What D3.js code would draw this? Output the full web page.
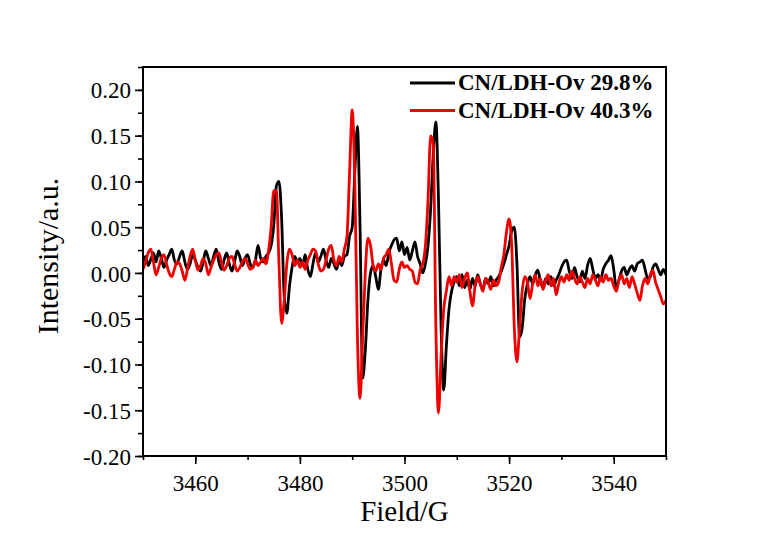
<!DOCTYPE html>
<html>
<head>
<meta charset="utf-8">
<script src="https://cdn.jsdelivr.net/npm/d3@7"></script>
<style>
  body { margin: 0; background: #fff; }
  text { font-family: "Liberation Serif", "Times New Roman", serif; }
</style>
</head>
<body>
<div id="chart"></div>
<script>

//////////////////////////////////////////////////////////////////////////////
// Data (read off the picture, sampled every 0.5 G from 3450 to 3550)

var seriesNames = ["CN/LDH-Ov 29.8%", "CN/LDH-Ov 40.3%"];
var seriesColors = ["#000000", "#ee0000"];

var xTicks = [3460, 3480, 3500, 3520, 3540];
var yTicks = [-0.20, -0.15, -0.10, -0.05, 0.00, 0.05, 0.10, 0.15, 0.20];

var fieldStart = 3450, fieldStep = 0.5;

var ov298 = [
    0.012, 0.018, 0.008, 0.015, 0.022, 0.012, 0.024, 0.016, 0.006, 0.014, 0.020, 0.026, 0.014, 0.010, 0.018, 0.024, 0.012, 0.004, 0.010, 0.020,
    0.014, 0.006, 0.002, 0.012, 0.024, 0.016, 0.008, 0.018, 0.026, 0.012, 0.004, 0.014, 0.022, 0.010, 0.002, 0.012, 0.024, 0.018, 0.008, 0.016,
    0.020, 0.010, 0.006, 0.014, 0.030, 0.016, 0.012, 0.018, 0.022, 0.030, 0.052, 0.095, 0.100, 0.060, -0.025, -0.044, -0.015, 0.006, 0.018, 0.012,
    0.016, 0.008, 0.020, 0.004, -0.004, 0.010, 0.022, 0.012, 0.018, 0.026, 0.014, 0.006, 0.016, 0.010, 0.004, 0.014, 0.008, 0.018, 0.020, 0.040,
    0.050, 0.110, 0.160, 0.050, -0.115, -0.085, -0.030, 0.000, 0.008, -0.004, -0.018, 0.004, 0.014, 0.008, 0.022, 0.030, 0.036, 0.038, 0.024, 0.034,
    0.020, 0.028, 0.014, 0.024, 0.034, 0.018, 0.010, 0.000, 0.010, 0.030, 0.070, 0.130, 0.165, 0.080, -0.060, -0.128, -0.080, -0.040, -0.020, -0.010,
    -0.004, -0.014, -0.002, -0.016, -0.008, -0.018, -0.006, -0.014, -0.002, -0.012, -0.018, -0.006, -0.012, -0.004, -0.014, -0.008, -0.004, 0.002, 0.010, 0.020,
    0.030, 0.046, 0.050, 0.010, -0.070, -0.060, -0.028, -0.012, -0.004, -0.012, -0.002, 0.003, -0.010, -0.016, -0.006, -0.012, -0.004, -0.014, -0.008, -0.002,
    0.006, 0.012, 0.014, 0.002, -0.006, 0.006, -0.004, -0.010, 0.002, -0.006, 0.008, 0.016, 0.004, -0.006, -0.002, -0.008, 0.004, 0.010, 0.014, 0.019,
    0.004, -0.016, -0.008, 0.002, 0.006, -0.002, 0.004, 0.008, 0.002, 0.010, 0.012, 0.014, 0.004, -0.006, -0.004, 0.006, 0.010, 0.004, -0.002, 0.004,
    -0.002
];

var ov403 = [
    0.004, 0.012, 0.022, 0.026, 0.012, -0.002, 0.006, 0.016, 0.020, 0.010, 0.000, -0.004, 0.004, 0.012, 0.010, 0.002, -0.008, 0.004, 0.018, 0.026,
    0.014, 0.003, 0.008, 0.016, 0.010, -0.002, 0.006, 0.014, 0.020, 0.022, 0.012, 0.003, 0.008, 0.016, 0.018, 0.010, 0.002, 0.006, 0.012, 0.016,
    0.010, 0.004, 0.006, 0.014, 0.008, 0.012, 0.016, 0.010, 0.024, 0.050, 0.090, 0.090, 0.010, -0.055, -0.030, 0.010, 0.026, 0.020, 0.008, 0.014,
    0.006, 0.012, 0.004, 0.014, 0.020, 0.026, 0.024, 0.010, 0.002, 0.004, 0.014, 0.026, 0.030, 0.014, 0.008, 0.018, 0.012, 0.026, 0.040, 0.110,
    0.178, 0.100, -0.070, -0.137, -0.070, 0.000, 0.038, 0.030, 0.008, 0.002, 0.010, 0.004, 0.016, 0.020, 0.026, 0.010, -0.008, -0.010, 0.004, 0.012,
    0.006, 0.008, 0.004, 0.002, -0.010, -0.012, 0.004, 0.010, 0.030, 0.080, 0.150, 0.140, -0.060, -0.153, -0.090, -0.040, -0.020, -0.004, -0.014, -0.004,
    -0.010, -0.002, -0.016, -0.006, 0.000, -0.020, -0.036, -0.014, -0.004, -0.012, -0.020, -0.006, -0.010, -0.018, -0.008, -0.014, -0.010, 0.006, 0.020, 0.045,
    0.059, 0.030, -0.060, -0.097, -0.060, -0.020, -0.004, -0.010, -0.028, -0.012, -0.002, -0.014, -0.006, -0.018, -0.008, -0.002, -0.014, -0.006, -0.024, -0.012,
    -0.004, -0.010, -0.002, -0.008, 0.002, -0.006, -0.012, -0.004, -0.010, -0.016, -0.006, -0.012, -0.002, -0.008, -0.014, -0.004, -0.010, -0.002, -0.008, -0.006,
    -0.014, -0.020, -0.008, -0.002, -0.012, -0.006, -0.016, -0.004, -0.012, -0.022, -0.030, -0.014, -0.006, -0.012, -0.002, 0.003, -0.010, -0.018, -0.026, -0.034,
    -0.030
];

//////////////////////////////////////////////////////////////////////////////
// Layout

var width = 761, height = 536;
var plotLeft = 143, plotRight = 666, plotTop = 67, plotBottom = 456;

var xScale = d3.scaleLinear().domain([3450, 3550]).range([plotLeft, plotRight]);
var yScale = d3.scaleLinear().domain([-0.20, 0.225]).range([plotBottom, plotTop]);

var svg = d3.select("#chart").append("svg")
    .attr("width", width)
    .attr("height", height);

svg.append("defs").append("clipPath").attr("id", "plotClip")
    .append("rect")
    .attr("x", plotLeft).attr("y", plotTop)
    .attr("width", plotRight - plotLeft).attr("height", plotBottom - plotTop);

function toPoints(values) {
    return values.map(function(v, i) { return [fieldStart + i * fieldStep, v]; });
}

var line = d3.line()
    .x(function(d) { return xScale(d[0]); })
    .y(function(d) { return yScale(d[1]); })
    .curve(d3.curveMonotoneX);

// black first, red on top
[ov298, ov403].forEach(function(values, k) {
    svg.append("path")
        .attr("clip-path", "url(#plotClip)")
        .attr("d", line(toPoints(values)))
        .attr("fill", "none")
        .attr("stroke", seriesColors[k])
        .attr("stroke-width", 2.8)
        .attr("stroke-linejoin", "round");
});

//////////////////////////////////////////////////////////////////////////////
// Axes

var xMinor = d3.range(3450, 3551, 10);
var yMinor = d3.range(-0.20, 0.2251, 0.025);

var xAxis = svg.append("g").attr("transform", "translate(0," + plotBottom + ")");
xAxis.call(d3.axisBottom(xScale).tickValues(xMinor).tickSize(4).tickFormat(""));
var xMajor = svg.append("g").attr("transform", "translate(0," + plotBottom + ")");
xMajor.call(d3.axisBottom(xScale).tickValues(xTicks).tickSize(8).tickPadding(6).tickFormat(d3.format("d")));

var yAxis = svg.append("g").attr("transform", "translate(" + plotLeft + ",0)");
yAxis.call(d3.axisLeft(yScale).tickValues(yMinor).tickSize(5).tickFormat(""));
var yMajor = svg.append("g").attr("transform", "translate(" + plotLeft + ",0)");
// plain hyphen for negatives, as in the original figure
yMajor.call(d3.axisLeft(yScale).tickValues(yTicks).tickSize(8).tickPadding(4)
    .tickFormat(function(d) { return d.toFixed(2); }));

svg.selectAll(".domain").remove();
svg.selectAll(".tick line").attr("stroke", "#000").attr("stroke-width", 1.6);
svg.selectAll(".tick text")
    .attr("fill", "#000")
    .style("font-size", "23px")
    .style("font-family", "'Liberation Serif', serif");
xMajor.selectAll(".tick text").attr("dy", "0.9em");
yMajor.selectAll(".tick text").attr("dy", "0.35em");

// frame
svg.append("rect")
    .attr("x", plotLeft).attr("y", plotTop)
    .attr("width", plotRight - plotLeft).attr("height", plotBottom - plotTop)
    .attr("fill", "none")
    .attr("stroke", "#000")
    .attr("stroke-width", 2);

// axis titles
svg.append("text")
    .attr("x", (plotLeft + plotRight) / 2)
    .attr("y", 521)
    .attr("text-anchor", "middle")
    .style("font-size", "29px")
    .text("Field/G");

svg.append("text")
    .attr("transform", "translate(58,256) rotate(-90)")
    .attr("text-anchor", "middle")
    .style("font-size", "30px")
    .text("Intensity/a.u.");

//////////////////////////////////////////////////////////////////////////////
// Legend

var legend = svg.append("g");
seriesNames.forEach(function(name, k) {
    var y = 90 + k * 27.5;
    legend.append("line")
        .attr("x1", 410).attr("x2", 455)
        .attr("y1", y - 7).attr("y2", y - 7)
        .attr("stroke", seriesColors[k])
        .attr("stroke-width", 2.8);
    legend.append("text")
        .attr("x", 458).attr("y", y)
        .style("font-size", "23px")
        .style("font-weight", "bold")
        .text(name);
});

</script>
</body>
</html>
